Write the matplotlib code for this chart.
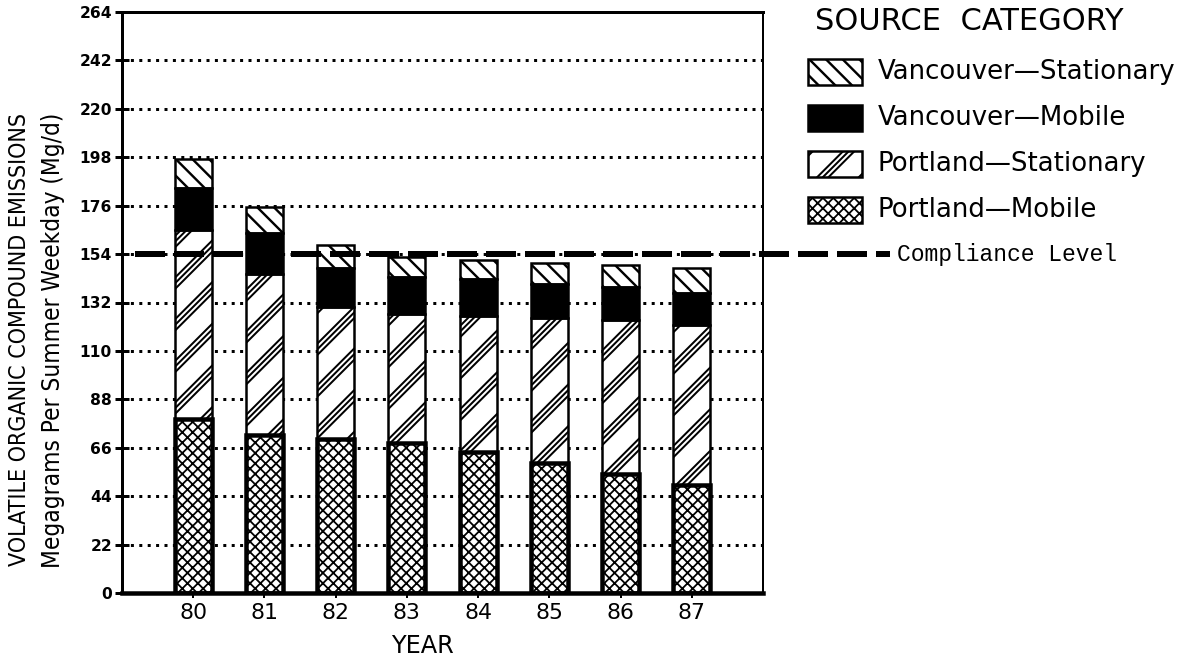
import numpy as np
import matplotlib.pyplot as plt
from matplotlib.patches import Rectangle

# emission inventory, Portland-Vancouver AQMA (Mg/d)
years = ["80", "81", "82", "83", "84", "85", "86", "87"]
portland_mobile = [79, 72, 70, 68, 64, 59, 54, 49]
portland_stationary = [86, 73, 60, 59, 62, 66, 70, 73]
vancouver_mobile = [19, 18.5, 17.5, 16.5, 16.5, 15.5, 15, 14.5]
vancouver_stationary = [13, 12, 10.5, 9, 9, 9.5, 10, 11]
compliance_level = 154
y_ticks = list(range(0, 265, 22))

legend_labels = ["Vancouver\u2014Stationary", "Vancouver\u2014Mobile",
                 "Portland\u2014Stationary", "Portland\u2014Mobile"]

DPI = 250
W, H = 1190, 659


def pt(px):
    # pixel size -> points at this dpi
    return px * 72 / DPI


# hatch layers: (hatch, colour, hatch linewidth px, facecolor)
STYLE = {
    "vs": [("\\" * 5, "black", 2.4, "white")],
    "vm": [(None, "black", 0, "black")],
    "ps": [("//", "black", 10, "white"), ("//", "white", 6, "none"), ("//", "black", 2, "none")],
    "pm": [("x" * 8, "black", 1.8, "white")],
}


def set_hlw(artist, px):
    if hasattr(artist, "set_hatch_linewidth"):
        artist.set_hatch_linewidth(pt(px))


fig = plt.figure(figsize=(W / DPI, H / DPI), dpi=DPI)
ax = fig.add_axes([122 / W, 1 - 593 / H, (763 - 122) / W, (593 - 12) / H])

x = np.arange(len(years))
bw = 0.52

b0 = np.zeros(len(years))
segments = [("pm", portland_mobile, 4.5), ("ps", portland_stationary, 2.5),
            ("vm", vancouver_mobile, 2.5), ("vs", vancouver_stationary, 2.5)]
for key, vals, elw in segments:
    vals = np.array(vals, dtype=float)
    for hatch, col, hlw, fc in STYLE[key]:
        bars = ax.bar(x, vals, bw, bottom=b0, facecolor=fc, edgecolor=col,
                      hatch=hatch, linewidth=0, zorder=2)
        for b in bars:
            set_hlw(b, hlw)
    ax.bar(x, vals, bw, bottom=b0, facecolor="none", edgecolor="black",
           linewidth=pt(elw), zorder=3)
    b0 = b0 + vals

ax.set_xlim(-1, 8)
ax.set_ylim(0, 264)
ax.set_yticks(y_ticks)
ax.set_yticklabels([str(v) for v in y_ticks], fontsize=pt(15.5), fontweight="bold")
ax.set_xticks(x)
ax.set_xticklabels(years, fontsize=pt(22))
ax.tick_params(axis="y", direction="inout", length=pt(14), width=pt(3), pad=pt(3))
ax.tick_params(axis="x", direction="out", length=pt(5), width=pt(2), pad=pt(5))

ax.yaxis.grid(True, linestyle=(0, (1, 1.8)), color="black", linewidth=pt(3))
ax.set_axisbelow(True)

ax.spines["left"].set_linewidth(pt(3))
ax.spines["bottom"].set_linewidth(pt(4.5))
ax.spines["top"].set_linewidth(pt(3))
ax.spines["right"].set_linewidth(pt(2))

# compliance level line runs past the axes into the margin
yt = ax.get_yaxis_transform()
ax.plot([0.02, 1.198], [compliance_level] * 2, transform=yt, color="black",
        linewidth=pt(6), linestyle=(0, (5, 1.5)), clip_on=False, zorder=5)
ax.text(1.209, compliance_level, "Compliance Level", transform=yt,
        va="center", ha="left", family="Liberation Mono", fontsize=pt(23))

fig.text(422 / W, 1 - 646 / H, "YEAR", ha="center", va="center", fontsize=pt(24))

fig.text(20 / W, 1 - 340 / H, "VOLATILE ORGANIC COMPOUND EMISSIONS", rotation=90,
         ha="center", va="center", family=["DejaVu Sans"], fontstretch="condensed",
         fontsize=pt(23.2))
fig.text(53 / W, 1 - 340 / H, "Megagrams Per Summer Weekday (Mg/d)", rotation=90,
         ha="center", va="center", family=["DejaVu Sans"], fontstretch="condensed",
         fontsize=pt(24.2))

# legend, drawn by hand to match the old plotter layout
fig.text(815 / W, 1 - 22 / H, "SOURCE  CATEGORY", ha="left", va="center", fontsize=pt(30.5))
sw_x, sw_w, sw_h = 808, 54, 26
for i, (key, lab) in enumerate(zip(["vs", "vm", "ps", "pm"], legend_labels)):
    yc = 72 + i * 46
    rect_xy = (sw_x / W, 1 - (yc + sw_h / 2) / H)
    for hatch, col, hlw, fc in STYLE[key]:
        r = Rectangle(rect_xy, sw_w / W, sw_h / H, transform=fig.transFigure,
                      facecolor=fc, edgecolor=col, hatch=hatch, linewidth=0)
        set_hlw(r, hlw)
        fig.add_artist(r)
    fig.add_artist(Rectangle(rect_xy, sw_w / W, sw_h / H, transform=fig.transFigure,
                             facecolor="none", edgecolor="black", linewidth=pt(2.5)))
    fig.text(878 / W, 1 - yc / H, lab, ha="left", va="center", fontsize=pt(26))

fig.savefig("out.png", dpi=DPI)
